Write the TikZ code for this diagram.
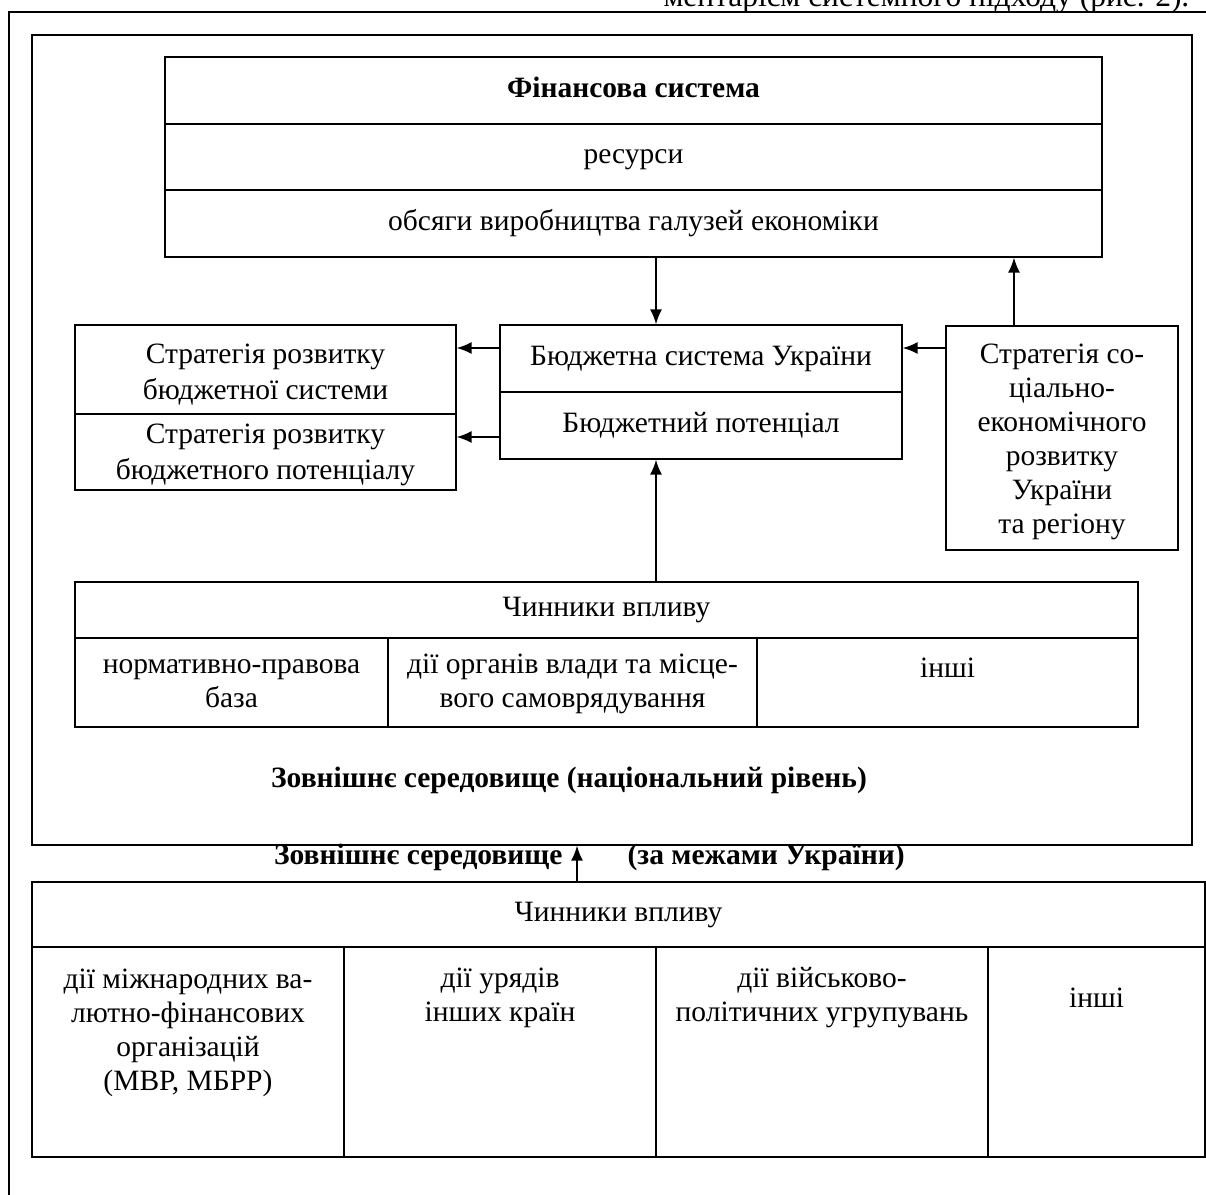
\documentclass[tikz,border=0pt]{standalone}
\usepackage{fontspec}
\setmainfont{Liberation Serif}
\usetikzlibrary{arrows.meta}
\begin{document}
\begin{tikzpicture}[x=1pt,y=-1pt,line width=1.3pt,
  font=\fontsize{29.5}{34}\selectfont,
  cell/.style={draw,rectangle,inner sep=0pt,align=center},
  one/.style={text height=20pt,text depth=7pt},
  wide/.style={font=\fontsize{29.5}{36}\selectfont},
  bold/.style={font=\fontsize{29.5}{34}\selectfont\bfseries},
  txt/.style={align=center,inner sep=0pt},
  arr/.style={-{Latex[length=15pt,width=12pt]},line width=1.6pt}]
\useasboundingbox (0,0) rectangle (1206,1194);
\clip (0,0) rectangle (1206,1194);
% fragment of text above
\node[anchor=base east,inner sep=0pt,font=\fontsize{31.5}{34}\selectfont] (frag) at (1190,6) {ментарієм системного підходу (рис. 2).};
% outer frame
\draw (1212,12) -- (9,12) -- (9,1200);
% national frame
\node[cell,minimum width=1160pt,minimum height=810pt] (natframe) at (612,440) {};
% finance system
\node[cell,one,minimum width=937pt,minimum height=67pt] (fin1) at (633.5,90.5) {\bfseries Фінансова система};
\node[cell,one,minimum width=937pt,minimum height=66pt] (fin2) at (633.5,157) {ресурси};
\node[cell,one,minimum width=937pt,minimum height=67pt] (fin3) at (633.5,223.5) {обсяги виробництва галузей економіки};
% budget
\node[cell,one,minimum width=402pt,minimum height=67pt] (bud1) at (701,358.5) {Бюджетна система України};
\node[cell,one,minimum width=402pt,minimum height=67pt] (bud2) at (701,425.5) {Бюджетний потенціал};
% strategies
\node[cell,minimum width=381pt,minimum height=89pt] (str1) at (265.5,369.5) {};
\node[cell,minimum width=381pt,minimum height=76pt] (str2) at (265.5,452) {};
\node[txt,wide] (str1t) at (265.5,375) {Стратегія розвитку\\бюджетної системи};
\node[txt,wide] (str2t) at (265.5,455) {Стратегія розвитку\\бюджетного потенціалу};
\node[cell,minimum width=232pt,minimum height=224pt] (soc) at (1062,438) {};
\node[txt] (soct) at (1062,442) {Стратегія со-\\ціально-\\економічного\\розвитку\\України\\та регіону};
% national factors
\node[cell,one,minimum width=1063pt,minimum height=56pt] (nhead) at (606.5,610) {Чинники впливу};
\node[cell,minimum width=313pt,minimum height=89pt] (n1) at (231.5,682.5) {};
\node[cell,minimum width=369pt,minimum height=89pt] (n2) at (572.5,682.5) {};
\node[cell,minimum width=381pt,minimum height=89pt] (n3) at (947.5,682.5) {};
\node[txt] (n1t) at (231.5,684) {нормативно-правова\\база};
\node[txt] (n2t) at (572.5,684) {дії органів влади та місце-\\вого самоврядування};
\node[txt,one] (n3t) at (947.5,671) {інші};
\node[txt,bold] (natlabel) at (569,780) {Зовнішнє середовище (національний рівень)};
% external
\node[txt,anchor=east,bold] (extl) at (563,857) {Зовнішнє середовище};
\node[txt,anchor=west,bold] (extr) at (627,857) {(за межами України)};
\node[cell,one,minimum width=1173pt,minimum height=65pt] (bhead) at (618.5,914.5) {Чинники впливу};
\node[cell,minimum width=312pt,minimum height=210pt] (b1) at (188,1052) {};
\node[cell,minimum width=312pt,minimum height=210pt] (b2) at (500,1052) {};
\node[cell,minimum width=332pt,minimum height=210pt] (b3) at (822,1052) {};
\node[cell,minimum width=217pt,minimum height=210pt] (b4) at (1096.5,1052) {};
\node[txt] (b1t) at (188,1033) {дії міжнародних ва-\\лютно-фінансових\\організацій\\(МВР, МБРР)};
\node[txt] (b2t) at (500,998) {дії урядів\\інших країн};
\node[txt] (b3t) at (822,998) {дії військово-\\політичних угрупувань};
\node[txt,one] (b4t) at (1096.5,1001) {інші};
% arrow helper coordinates
\coordinate (cx1) at (656,0);
\coordinate (cx2) at (1014,0);
\coordinate (cx3) at (577,0);
\coordinate (cyA) at (0,348);
\coordinate (cyB) at (0,437);
% arrows
\draw[arr] (fin3.south -| cx1) -- (bud1.north -| cx1);
\draw[arr] (bud1.west |- cyA) -- (str1.east |- cyA);
\draw[arr] (bud2.west |- cyB) -- (str2.east |- cyB);
\draw[arr] (soc.west |- cyA) -- (bud1.east |- cyA);
\draw[arr] (soc.north -| cx2) -- (fin3.south -| cx2);
\draw[arr] (nhead.north -| cx1) -- (bud2.south -| cx1);
\draw[arr] (bhead.north -| cx3) -- (natframe.south -| cx3);
\end{tikzpicture}
\end{document}
